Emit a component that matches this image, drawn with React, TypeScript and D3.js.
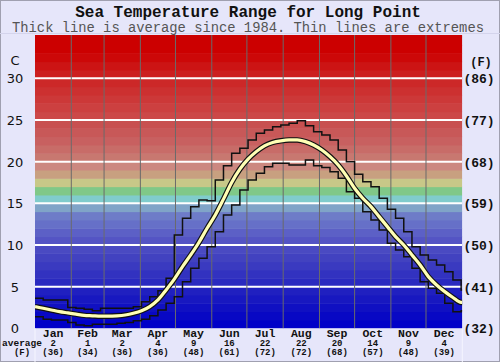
import React from "react";
import * as d3 from "d3";

const W = 500;
const H = 362;

const title = "Sea Temperature Range for Long Point";
const subtitle = "Thick line is average since 1984. Thin lines are extremes";

// weekly values (week i starts at day 7*i)
const avgTemp = [
  2.6, 2.4, 2.2, 2.0, 1.85, 1.7, 1.55, 1.5, 1.45, 1.45, 1.5, 1.6, 1.8, 2.1, 2.6, 3.4,
  4.6, 5.9, 7.4, 8.8, 10.3, 12.0, 13.6, 15.5, 17.5, 19.1, 20.3, 21.2, 21.9, 22.3,
  22.5, 22.6, 22.6, 22.4, 22.0, 21.4, 20.6, 19.6, 18.3, 16.8, 15.6, 14.6, 13.4,
  12.2, 11.0, 10.0, 8.8, 7.6, 6.2, 5.2, 4.4, 3.7, 3.1,
];
const maxTemp = [
  3.6, 3.4, 3.4, 3.4, 2.5, 2.4, 2.3, 2.1, 2.4, 2.4, 2.4, 2.4, 2.6, 3.2, 3.8, 4.5,
  6.0, 11.2, 13.2, 14.6, 15.4, 15.3, 17.8, 19.5, 21.0, 21.6, 22.6, 23.4, 23.8, 24.2,
  24.4, 24.6, 24.9, 24.3, 23.6, 23.2, 22.6, 21.4, 20.0, 18.5, 17.6, 17.0, 15.6,
  14.3, 13.2, 11.6, 9.8, 8.8, 8.2, 7.6, 6.8, 5.8, 4.6,
];
const minTemp = [
  1.4, 1.1, 1.0, 1.0, 0.7, 0.4, 0.3, 0.5, 0.5, 0.5, 0.6, 0.7, 0.9, 1.1, 1.5, 2.2,
  3.0, 3.8, 5.6, 7.2, 8.4, 9.8, 11.6, 13.6, 14.8, 16.6, 17.8, 18.6, 19.4, 19.8,
  19.8, 19.6, 19.6, 20.2, 19.5, 19.3, 18.8, 18.0, 16.4, 15.6, 14.0, 13.0, 11.8,
  10.2, 9.4, 8.6, 7.2, 5.6, 4.8, 4.2, 3.0, 2.0, 2.1,
];

const months = ["Jan", "Feb", "Mar", "Apr", "May", "Jun", "Jul", "Aug", "Sep", "Oct", "Nov", "Dec"];
const monthAvgC = ["2", "1", "2", "4", "9", "16", "22", "22", "20", "14", "9", "4"];
const monthAvgF = ["(36)", "(34)", "(36)", "(36)", "(48)", "(61)", "(72)", "(72)", "(68)", "(57)", "(48)", "(39)"];
const monthStarts = [0, 31, 59, 90, 120, 151, 181, 212, 243, 273, 304, 334, 365];

const cTicks = [0, 5, 10, 15, 20, 25, 30];
const fTicks = ["(32)", "(41)", "(50)", "(59)", "(68)", "(77)", "(86)"];

// one colour band per degree C, from 0 upwards
const bandColors = [
  "#0000C8", "#0808C4", "#1010C2", "#1818C0", "#2020C0",
  "#2A2AC0", "#3232C0", "#3A3AC0", "#4242C0", "#4A4AC2",
  "#5454C4", "#5C60C6", "#6670C8", "#6E7CC8", "#80A4C8",
  "#80CCCC", "#80C888", "#C8C888", "#C8A080", "#CC8880",
  "#C87870", "#C86C68", "#C86060", "#C85858", "#C85050",
  "#CC4848", "#CC4040", "#CC3838", "#CC3030", "#CC2828",
  "#CC2020", "#CC1414", "#CC0808", "#CC0000", "#CC0000", "#CC0000",
];

const monoFont = "'Liberation Mono', 'DejaVu Sans Mono', monospace";
const sansFont = "'DejaVu Sans', Verdana, sans-serif";

export default function App() {
  const left = 35, right = 462.3, top = 35, bottom = 328.3;
  const x = d3.scaleLinear().domain([0, 365]).range([left, right]);
  const y = d3.scaleLinear().domain([0, 30]).range([bottom, 78.3]);

  const days = avgTemp.map((_, i) => Math.min(i * 7, 365));
  const stepData = (arr: number[]) => {
    const pts = arr.map((v, i) => [days[i], v] as [number, number]);
    pts.push([365, arr[arr.length - 1]]);
    return pts;
  };
  const stepLine = d3
    .line<[number, number]>()
    .x((d) => x(d[0]))
    .y((d) => y(d[1]))
    .curve(d3.curveStepAfter);
  const smoothLine = d3
    .line<[number, number]>()
    .x((d) => x(d[0]))
    .y((d) => y(d[1]))
    .curve(d3.curveMonotoneX);
  const avgPts = avgTemp.map((v, i) => [days[i], v] as [number, number]);
  avgPts.push([365, avgTemp[avgTemp.length - 1]]);

  return (
    <svg
      width={W}
      height={H}
      style={{ position: "absolute", left: 0, top: 0, display: "block" }}
    >
      <rect x={0} y={0} width={W} height={H} fill="#E6E6FA" />
      <rect x={0.5} y={0.5} width={W - 1} height={H - 1} fill="none" stroke="#A0A0B0" />
      <line x1={0} x2={W} y1={33.5} y2={33.5} stroke="#D4D4EC" />
      <text x={248} y={17} textAnchor="middle" fontFamily={monoFont} fontWeight="bold" fontSize={16} fill="#111">
        {title}
      </text>
      <text x={248} y={32} textAnchor="middle" fontFamily={monoFont} fontSize={13.8} fill="#555">
        {subtitle}
      </text>

      <defs>
        <clipPath id="plotClip">
          <rect x={left} y={top} width={right - left} height={bottom - top} />
        </clipPath>
      </defs>

      <g clipPath="url(#plotClip)">
        {bandColors.map((c, i) => (
          <rect
            key={i}
            x={left}
            width={right - left}
            y={y(i + 1)}
            height={y(i) - y(i + 1) + 0.5}
            fill={c}
          />
        ))}
        {cTicks.slice(1).map((t) => (
          <line key={t} x1={left} x2={right} y1={y(t)} y2={y(t)} stroke="#FFFFFF" strokeWidth={2} />
        ))}
        {monthStarts.slice(1, 12).map((d) => (
          <line key={d} x1={x(d)} x2={x(d)} y1={top} y2={bottom} stroke="#6A6A6A" strokeWidth={1} />
        ))}
        <path d={stepLine(stepData(maxTemp)) || ""} fill="none" stroke="#111" strokeWidth={1.5} />
        <path d={stepLine(stepData(minTemp)) || ""} fill="none" stroke="#111" strokeWidth={1.5} />
        <path d={smoothLine(avgPts) || ""} fill="none" stroke="#111" strokeWidth={5.5} strokeLinejoin="round" />
        <path d={smoothLine(avgPts) || ""} fill="none" stroke="#FFFFB4" strokeWidth={3.2} strokeLinejoin="round" />
      </g>

      <line x1={left} x2={left} y1={bottom} y2={H} stroke="#F6F6FF" strokeWidth={1} />
      <line x1={right} x2={right} y1={bottom} y2={H} stroke="#F6F6FF" strokeWidth={1} />

      {cTicks.map((t) => (
        <text key={t} x={15} y={y(t) + 5} textAnchor="middle" fontFamily={sansFont} fontSize={13} fill="#111">
          {t}
        </text>
      ))}
      <text x={15} y={65} textAnchor="middle" fontFamily={sansFont} fontSize={13} fill="#111">C</text>
      {fTicks.map((t, i) => (
        <text key={t} x={479} y={y(cTicks[i]) + 5} textAnchor="middle" fontFamily={monoFont} fontWeight="bold" fontSize={13} fill="#111">
          {t}
        </text>
      ))}
      <text x={481} y={66} textAnchor="middle" fontFamily={monoFont} fontWeight="bold" fontSize={12} fill="#111">(F)</text>

      {months.map((m, i) => {
        const cx = x((monthStarts[i] + monthStarts[i + 1]) / 2);
        return (
          <g key={m}>
            <text x={cx} y={336.5} textAnchor="middle" fontFamily={monoFont} fontWeight="bold" fontSize={11.5} fill="#111">{m}</text>
            <text x={cx} y={346} textAnchor="middle" fontFamily={monoFont} fontWeight="bold" fontSize={9} fill="#111">{monthAvgC[i]}</text>
            <text x={cx} y={354.5} textAnchor="middle" fontFamily={monoFont} fontWeight="bold" fontSize={9} fill="#111">{monthAvgF[i]}</text>
          </g>
        );
      })}
      <text x={22} y={346} textAnchor="middle" fontFamily={monoFont} fontWeight="bold" fontSize={9.5} fill="#111">average</text>
      <text x={22} y={354.5} textAnchor="middle" fontFamily={monoFont} fontWeight="bold" fontSize={9} fill="#111">(F)</text>
    </svg>
  );
}
